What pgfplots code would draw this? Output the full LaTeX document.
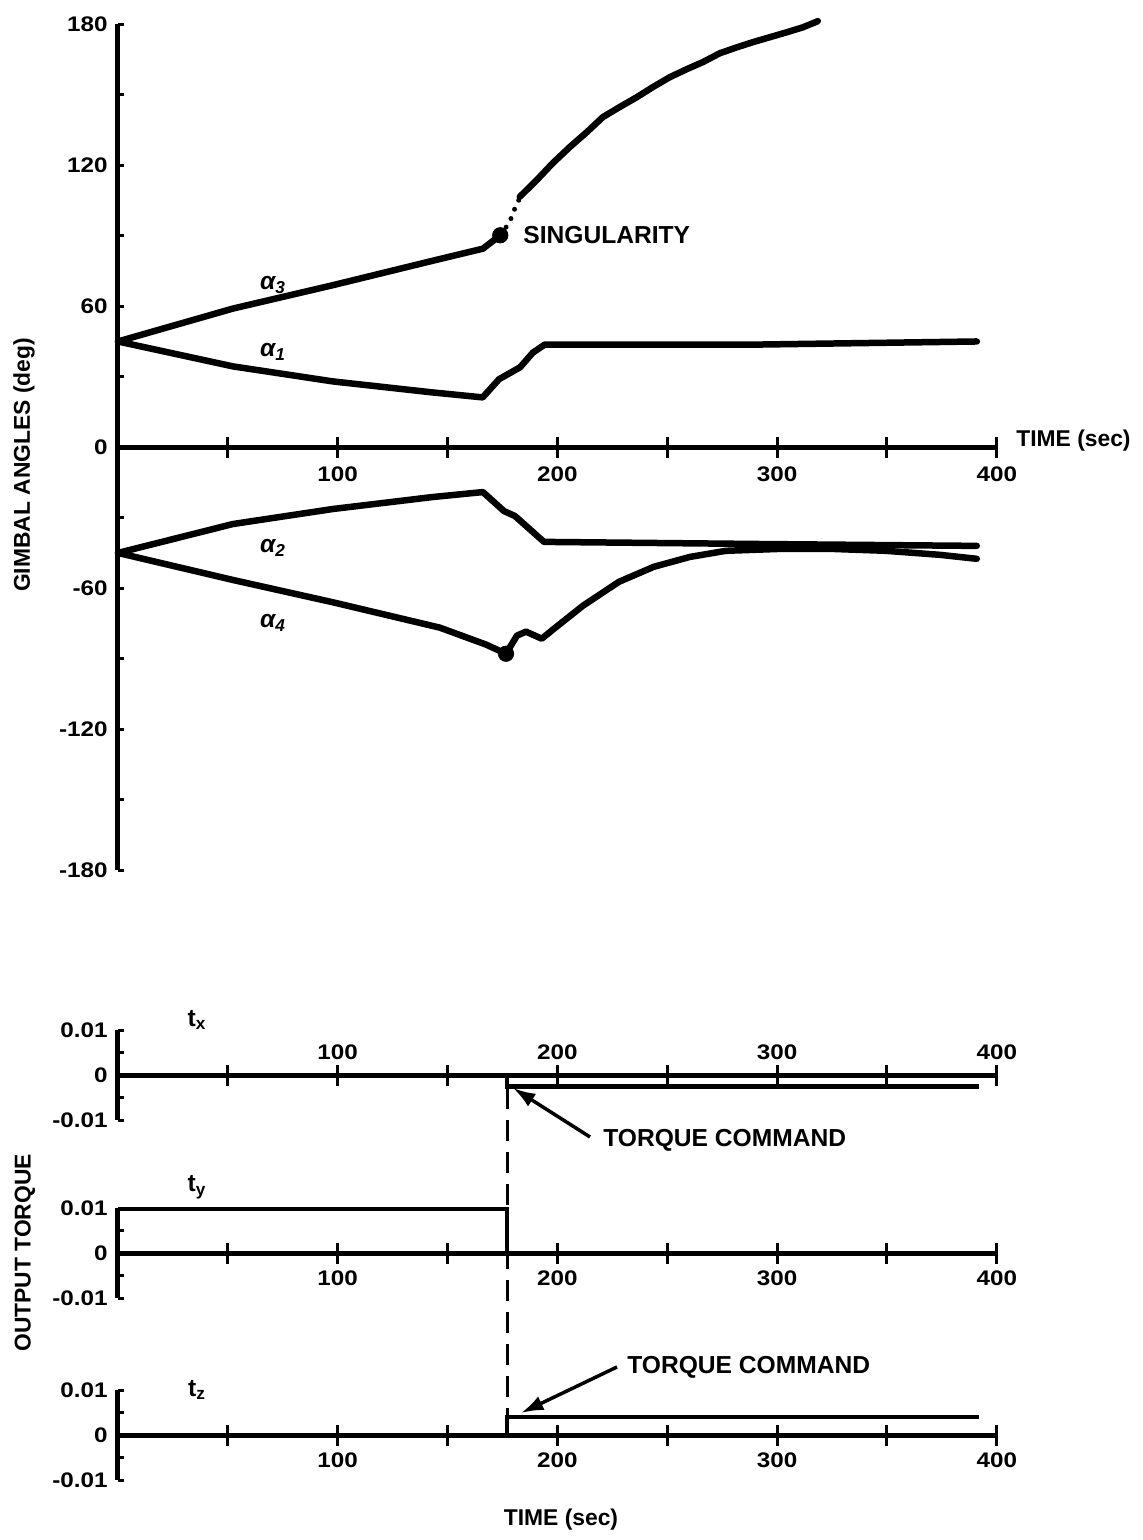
\documentclass[border=0pt]{standalone}
\usepackage{pgfplots}
\pgfplotsset{compat=1.18}
\usepackage{fontspec}
\setmainfont{Liberation Sans}
\newfontfamily\tickfont{Liberation Sans}[FakeStretch=1.15]
\usetikzlibrary{arrows.meta}

\pgfplotsset{
  base/.style={
    scale only axis, width=17.58cm,
    xmin=0, xmax=400,
    axis x line=middle, axis y line=left,
    axis line style={-, line width=0.1cm},
    clip=false,
    scaled x ticks=false, scaled y ticks=false,
    tick align=inside,
    major tick length=0.13cm, minor tick length=0.13cm,
    every tick/.style={black, line width=0.06cm},
    xtick=\empty,
    extra x ticks={50,100,...,400},
    extra x tick labels={,100,,200,,300,,400},
    extra x tick style={major tick length=0.42cm, tick align=center},
    ticklabel style={font=\tickfont\bfseries\fontsize{12}{14}\selectfont},
    yticklabel style={anchor=east, inner sep=0pt, xshift=-0.2cm},
    xticklabel style={anchor=center, inner sep=0pt},
  },
  torque/.style={
    base, height=1.8cm,
    ymin=-0.01, ymax=0.01,
    ytick={-0.01,0,0.01}, yticklabels={-0.01,0,0.01},
    minor ytick={-0.005,0.005},
  },
  dataline/.style={black, line width=0.13cm, line join=round, line cap=round, mark=none},
  tline/.style={black, line width=0.09cm, line join=miter, mark=none},
}

\begin{document}
\begin{tikzpicture}[x=0.02cm, y=0.02cm]
\useasboundingbox (0,0) rectangle (1142,1540);

% ---------------- gimbal angles ----------------
\begin{axis}[base, at={(2.36cm,13.4cm)}, anchor=south west,
  height=16.92cm, ymin=-180, ymax=180,
  ytick={-180,-120,-60,0,60,120,180},
  yticklabels={-180,-120,-60,0,60,120,180},
  minor ytick={-150,-90,-30,30,90,150},
  xticklabel style={yshift=-0.34cm},
]
% alpha 3
\addplot[dataline] coordinates {
 (0,45) (52.3,59) (98,69) (143,79.3) (166.1,84.5) (174,90.2)};
\addplot[black, line width=0.1cm, line cap=round, dash pattern=on 0pt off 0.2cm] coordinates {
 (174,90.2) (178.4,95.9) (179.7,99.8) (182.0,104.0) (182.9,106.6)};
\addplot[dataline] coordinates {
 (182.9,106.6) (190.7,113.8) (198.0,121.0) (205.7,127.8) (213.4,134.1)
 (220.7,140.5) (228.4,144.8) (236.2,149.0) (243.5,153.3) (251.2,157.5)
 (258.9,160.9) (266.2,163.9) (274.0,167.7) (281.7,170.2) (289.0,172.4)
 (296.7,174.5) (304.4,176.6) (311.7,178.7) (318.5,181.3)};
\addplot[black, only marks, mark=*, mark size=4.4pt] coordinates {(174,90.2)};
% alpha 1
\addplot[dataline] coordinates {
 (0,45) (52.3,34.4) (97.8,28.0) (143.3,23.3) (166,21.2) (173.4,28.9)
 (178.8,31.8) (183,34) (188.9,40.3) (194.3,43.7) (292.6,43.7) (390.9,45.0)};
% alpha 2
\addplot[dataline] coordinates {
 (0,-45) (52.3,-32.7) (97.8,-26.3) (143.3,-21.2) (166.1,-19.1) (175.7,-27.2)
 (180.7,-29.3) (193.9,-40.3) (292,-41.2) (390.9,-42.0)};
% alpha 4
\addplot[dataline] coordinates {
 (0,-45) (52.3,-56.5) (97.8,-66) (146.5,-76.8) (167.5,-84) (176.6,-87.9)
 (181.6,-80.2) (185.7,-78.5) (192.9,-81.5) (198.4,-77.3) (211.6,-67.5)
 (228,-57.3) (243.9,-50.9) (260.3,-46.7) (276.7,-44.1) (300.8,-43.3)
 (325.4,-43.3) (349.5,-44.1) (374,-45.8) (390.9,-47.5)};
\addplot[black, only marks, mark=*, mark size=4.4pt] coordinates {(176.6,-87.9)};
\end{axis}

% ---------------- t_x ----------------
\begin{axis}[torque, at={(2.36cm,8.4cm)}, anchor=south west,
  xticklabel style={yshift=0.66cm}]
\addplot[tline] coordinates {(0,0) (177,0) (177,-0.0025) (392,-0.0025)};
\end{axis}

% ---------------- t_y ----------------
\begin{axis}[torque, at={(2.36cm,4.84cm)}, anchor=south west,
  xticklabel style={yshift=-0.3cm}]
\addplot[tline] coordinates {(0,0.0098) (177,0.0098) (177,0) (392,0)};
\end{axis}

% ---------------- t_z ----------------
\begin{axis}[torque, at={(2.36cm,1.2cm)}, anchor=south west,
  xticklabel style={yshift=-0.3cm}]
\addplot[tline] coordinates {(0,0) (177,0) (177,0.004) (392,0.004)};
\end{axis}

% ---------------- annotations ----------------
\tikzset{lab/.style={font=\bfseries\fontsize{13}{15}\selectfont, inner sep=0pt}}
\node[lab, rotate=90] at (24,1075) {GIMBAL ANGLES (deg)};
\node[lab, rotate=90] at (25,287) {OUTPUT TORQUE};
\node[lab, anchor=west] at (1016,1099) {TIME (sec)};
\node[lab] at (561,20) {TIME (sec)};
\node[lab, anchor=west, font=\bfseries\fontsize{14}{16}\selectfont] at (523,1305) {SINGULARITY};

\tikzset{alab/.style={font=\bfseries\itshape\fontsize{14}{16}\selectfont, inner sep=0pt}}
\node[alab] at (273,1255) {α\textsubscript{3}};
\node[alab] at (273,1188) {α\textsubscript{1}};
\node[alab] at (273,992) {α\textsubscript{2}};
\node[alab] at (273,917) {α\textsubscript{4}};

\tikzset{tlab/.style={font=\bfseries\fontsize{14}{16}\selectfont, inner sep=0pt}}
\node[tlab] at (197,520) {t\textsubscript{x}};
\node[tlab] at (197,353) {t\textsubscript{y}};
\node[tlab] at (197,150) {t\textsubscript{z}};

\draw[black, line width=0.06cm, dash pattern=on 0.42cm off 0.22cm] (507,452) -- (507,122);

\node[lab, anchor=west, font=\bfseries\fontsize{14}{16}\selectfont] at (603,400) {TORQUE COMMAND};
\draw[black, line width=0.07cm, -{Latex[length=0.45cm, width=0.3cm]}] (590,403) -- (513,452);
\node[lab, anchor=west, font=\bfseries\fontsize{14}{16}\selectfont] at (627,173) {TORQUE COMMAND};
\draw[black, line width=0.07cm, -{Latex[length=0.45cm, width=0.3cm]}] (617,173) -- (521,127);
\end{tikzpicture}
\end{document}
